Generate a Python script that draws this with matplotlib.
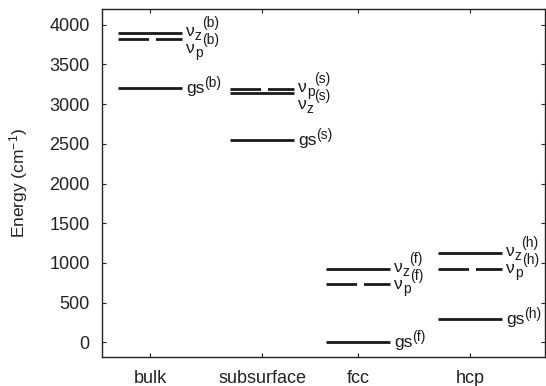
import matplotlib
matplotlib.use("Agg")
import matplotlib.pyplot as plt

plt.rcParams['font.family'] = 'Liberation Sans'
plt.rcParams['mathtext.fontset'] = 'custom'
plt.rcParams['mathtext.rm'] = 'Liberation Sans'
plt.rcParams['mathtext.default'] = 'regular'

sites = ['bulk', 'subsurface', 'fcc', 'hcp']
tags = ['(b)', '(s)', '(f)', '(h)']
gs = [3200, 2550, 0, 300]
nu_z = [3890, 3140, 930, 1130]
nu_p = [3820, 3190, 730, 930]

# category centres on the x axis (the original spacing is slightly uneven)
xpos = [1.0, 2.0, 2.857, 3.857]
hw = 0.286
ink = '#1a1a1a'

fig = plt.figure(figsize=(5.46, 3.86), dpi=100)
ax = fig.add_axes([0.187, 0.075, 0.811, 0.902])
ax.set_xlim(0.571, 4.527)
ax.set_ylim(-185, 4200)
renderer = fig.canvas.get_renderer()


def put(text, xy, dx, dy, size):
    t = ax.annotate(text, xy, xytext=(dx, dy), textcoords='offset pixels',
                    va='baseline', ha='left', fontsize=size, color=ink)
    return t.get_window_extent(renderer).width


def level_label(xy, base, sub, sup, dy):
    # gnuplot-like label: base, subscript, then superscript after it
    dx = 4
    w = put(base, xy, dx, dy, 12.5)
    dx += w
    if sub:
        dx += put(sub, xy, dx, dy - 4, 10)
        put(sup, xy, dx, dy + 9, 10)
    else:
        put(sup, xy, dx, dy + 6, 10)


for i, site in enumerate(sites):
    x = xpos[i]
    ax.plot([x - hw, x + hw], [gs[i], gs[i]], color=ink, lw=2, solid_capstyle='butt')
    ax.plot([x - hw, x + hw], [nu_z[i], nu_z[i]], color=ink, lw=2, solid_capstyle='butt')
    ax.plot([x - hw, x + hw], [nu_p[i], nu_p[i]], color=ink, lw=2,
            dashes=(11, 2.5), dash_capstyle='butt')

    level_label((x + hw, gs[i]), 'gs', None, tags[i], -5)

    top = max(nu_z[i], nu_p[i])
    if nu_z[i] >= nu_p[i]:
        upper, lower = 'z', 'p'
    else:
        upper, lower = 'p', 'z'
    level_label((x + hw, top), '\u03bd', upper, tags[i], -3)
    level_label((x + hw, top), '\u03bd', lower, tags[i], -20)

ax.set_xticks(xpos)
ax.set_xticklabels(sites)
ax.set_yticks(range(0, 4001, 500))
ax.tick_params(direction='in', top=True, right=True, labelsize=13, length=3,
               width=0.8, colors='#222222')
ax.tick_params(axis='y', pad=9)
ax.tick_params(axis='x', pad=9)
ax.set_ylabel('Energy (cm$^{-1}$)', fontsize=12.5, color='#222222')
ax.yaxis.set_label_coords(-0.163, 0.5)
for sp in ax.spines.values():
    sp.set_color('#222222')
    sp.set_linewidth(1.0)

fig.savefig('out.png', dpi=100)
